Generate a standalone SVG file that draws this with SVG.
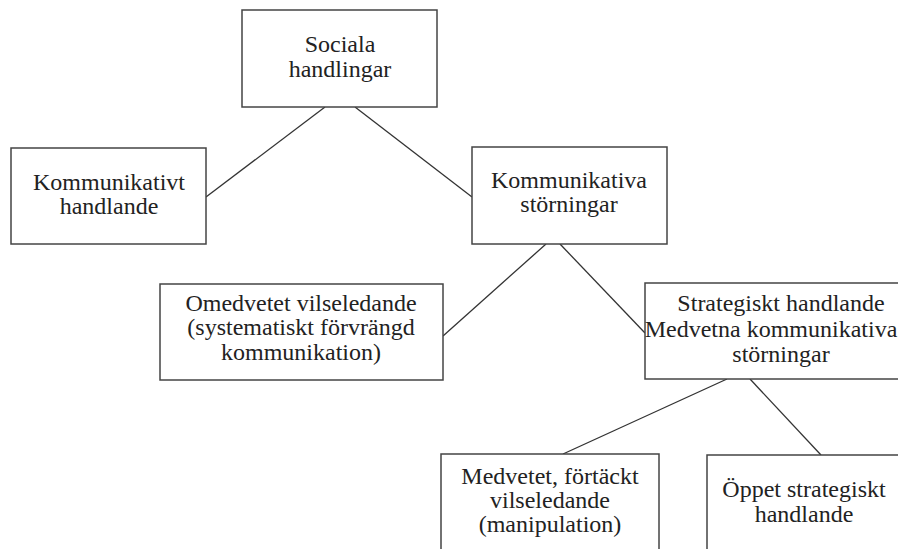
<svg xmlns="http://www.w3.org/2000/svg" width="898" height="549" viewBox="0 0 898 549">
<style>
.box{fill:#fff;stroke:#444;stroke-width:1.5}
text{font-family:'Liberation Serif','DejaVu Serif',serif;font-size:24px;fill:#222;text-anchor:middle}
.edge{stroke:#333;stroke-width:1.3;fill:none}
</style>
<rect width="898" height="549" fill="#fff"/>
<g id="connectors">
<line class="edge" x1="325" y1="107" x2="206" y2="197"/>
<line class="edge" x1="355" y1="107" x2="472" y2="197"/>
<line class="edge" x1="546" y1="244" x2="443" y2="336"/>
<line class="edge" x1="560" y1="244" x2="645" y2="333"/>
<line class="edge" x1="727" y1="379" x2="563" y2="454"/>
<line class="edge" x1="750" y1="379" x2="821" y2="455"/>
</g>
<g id="sociala">
<rect class="box" x="242" y="10" width="195" height="97"/>
<text x="340" y="52">Sociala</text>
<text x="340" y="77">handlingar</text>
</g>
<g id="kommunikativt">
<rect class="box" x="11" y="148" width="195" height="96"/>
<text x="109" y="190">Kommunikativt</text>
<text x="109" y="214">handlande</text>
</g>
<g id="storningar">
<rect class="box" x="472" y="147" width="195" height="97"/>
<text x="569" y="188">Kommunikativa</text>
<text x="569" y="212">störningar</text>
</g>
<g id="omedvetet">
<rect class="box" x="160" y="284" width="283" height="96"/>
<text x="301" y="311">Omedvetet vilseledande</text>
<text x="301" y="335">(systematiskt förvrängd</text>
<text x="301" y="360">kommunikation)</text>
</g>
<g id="strategiskt">
<rect class="box" x="645" y="283" width="272" height="96"/>
<text x="781" y="311">Strategiskt handlande</text>
<text x="771" y="337">Medvetna kommunikativa</text>
<text x="781" y="362">störningar</text>
</g>
<g id="medvetet">
<rect class="box" x="441" y="454" width="218" height="110"/>
<text x="550" y="484">Medvetet, förtäckt</text>
<text x="550" y="508">vilseledande</text>
<text x="550" y="532">(manipulation)</text>
</g>
<g id="oppet">
<rect class="box" x="707" y="455" width="195" height="110"/>
<text x="804" y="497">Öppet strategiskt</text>
<text x="804" y="522">handlande</text>
</g>
</svg>
